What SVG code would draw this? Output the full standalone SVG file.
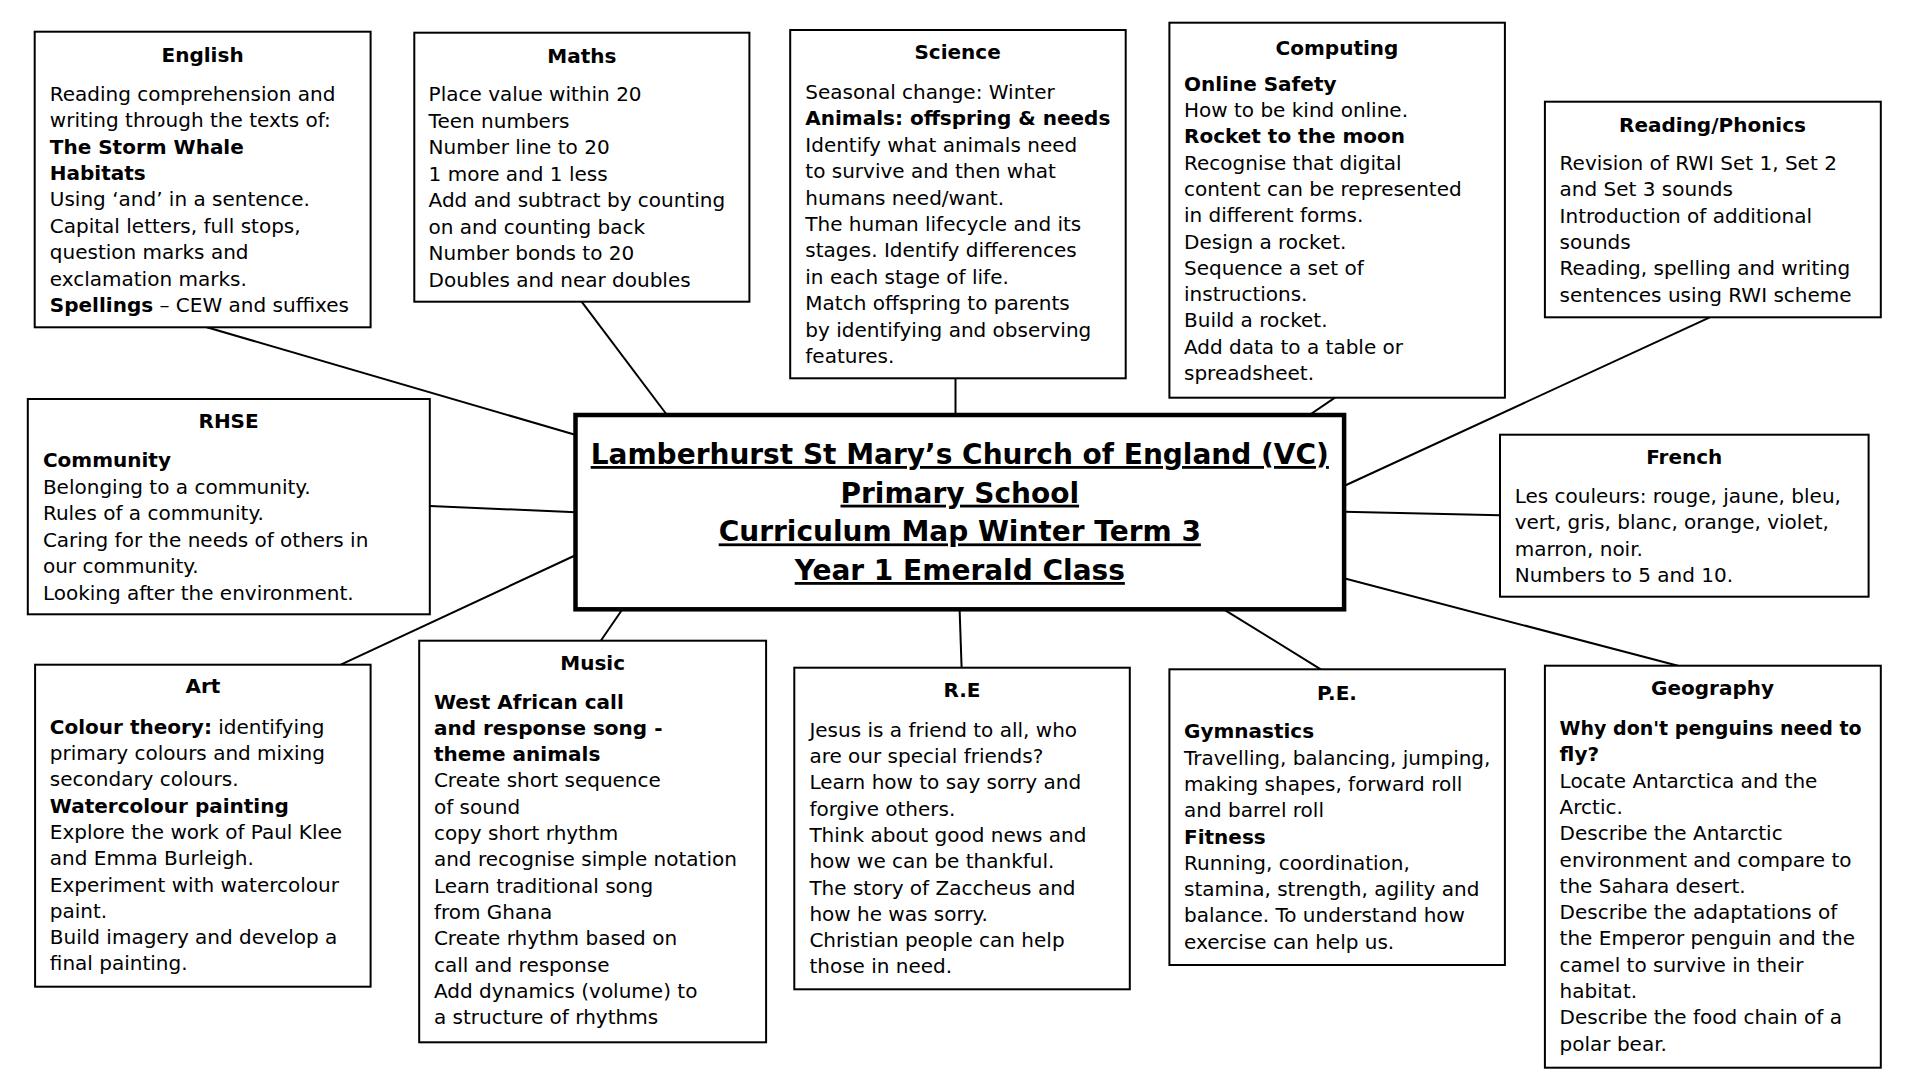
<svg xmlns="http://www.w3.org/2000/svg" width="1920" height="1079" viewBox="0 0 1920 1079">
<style>
.box{fill:#fff;stroke:#000;stroke-width:2}
.main{fill:#fff;stroke:#000;stroke-width:4.5}
.t{font-family:"DejaVu Sans",sans-serif;font-size:20px;fill:#000}
.h{font-family:"DejaVu Sans",sans-serif;font-size:20px;font-weight:bold;text-anchor:middle;fill:#000}
.b{font-weight:bold}
.mt{font-family:"DejaVu Sans",sans-serif;font-size:28px;font-weight:bold;text-anchor:middle;text-decoration:underline;fill:#000}
.c{stroke:#000;stroke-width:2;fill:none}
</style>
<rect width="1920" height="1079" fill="#fff"/>
<g id="connectors">
<line class="c" x1="206" y1="327" x2="576" y2="435"/>
<line class="c" x1="581.6" y1="301.7" x2="667" y2="415"/>
<line class="c" x1="955.5" y1="378.3" x2="955.5" y2="415"/>
<line class="c" x1="1335" y1="397.7" x2="1309.4" y2="415"/>
<line class="c" x1="1709.8" y1="317.3" x2="1344" y2="486"/>
<line class="c" x1="1344" y1="511.7" x2="1500" y2="515.3"/>
<line class="c" x1="1344" y1="578.3" x2="1678" y2="665.7"/>
<line class="c" x1="1223.7" y1="609.3" x2="1320.8" y2="669.3"/>
<line class="c" x1="959.6" y1="609.3" x2="961.6" y2="667.7"/>
<line class="c" x1="622.4" y1="609.3" x2="600.8" y2="640.7"/>
<line class="c" x1="576" y1="555" x2="340.8" y2="664.7"/>
<line class="c" x1="429.8" y1="506" x2="576" y2="512.3"/>
</g>
<g id="english">
<rect class="box" x="34.7" y="31.7" width="335.9" height="295.6"/>
<text class="h" x="202.6" y="61.7">English</text>
<text class="t" x="49.8" y="100.7"><tspan x="49.8">Reading comprehension and</tspan><tspan x="49.8" dy="26.4">writing through the texts of:</tspan><tspan x="49.8" dy="26.4" class="b">The Storm Whale</tspan><tspan x="49.8" dy="26.4" class="b">Habitats</tspan><tspan x="49.8" dy="26.4">Using ‘and’ in a sentence.</tspan><tspan x="49.8" dy="26.4">Capital letters, full stops,</tspan><tspan x="49.8" dy="26.4">question marks and</tspan><tspan x="49.8" dy="26.4">exclamation marks.</tspan><tspan x="49.8" dy="26.4" class="b">Spellings</tspan><tspan> – CEW and suffixes</tspan></text>
</g>
<g id="maths">
<rect class="box" x="414.3" y="32.7" width="335.1" height="269"/>
<text class="h" x="581.9" y="62.7">Maths</text>
<text class="t" x="428.6" y="101"><tspan x="428.6">Place value within 20</tspan><tspan x="428.6" dy="26.5">Teen numbers</tspan><tspan x="428.6" dy="26.5">Number line to 20</tspan><tspan x="428.6" dy="26.5">1 more and 1 less</tspan><tspan x="428.6" dy="26.5">Add and subtract by counting</tspan><tspan x="428.6" dy="26.5">on and counting back</tspan><tspan x="428.6" dy="26.5">Number bonds to 20</tspan><tspan x="428.6" dy="26.5">Doubles and near doubles</tspan></text>
</g>
<g id="science">
<rect class="box" x="790.2" y="30" width="335.5" height="348.3"/>
<text class="h" x="957.6" y="59.3">Science</text>
<text class="t" x="805.3" y="99"><tspan x="805.3">Seasonal change: Winter</tspan><tspan x="805.3" dy="26.4" class="b">Animals: offspring &amp; needs</tspan><tspan x="805.3" dy="26.4">Identify what animals need</tspan><tspan x="805.3" dy="26.4">to survive and then what</tspan><tspan x="805.3" dy="26.4">humans need/want.</tspan><tspan x="805.3" dy="26.4">The human lifecycle and its</tspan><tspan x="805.3" dy="26.4">stages. Identify differences</tspan><tspan x="805.3" dy="26.4">in each stage of life.</tspan><tspan x="805.3" dy="26.4">Match offspring to parents</tspan><tspan x="805.3" dy="26.4">by identifying and observing</tspan><tspan x="805.3" dy="26.4">features.</tspan></text>
</g>
<g id="computing">
<rect class="box" x="1169.4" y="22.7" width="335.5" height="375"/>
<text class="h" x="1337" y="55">Computing</text>
<text class="t" x="1184" y="90.7"><tspan x="1184" class="b">Online Safety</tspan><tspan x="1184" dy="26.3">How to be kind online.</tspan><tspan x="1184" dy="26.3" class="b">Rocket to the moon</tspan><tspan x="1184" dy="26.3">Recognise that digital</tspan><tspan x="1184" dy="26.3">content can be represented</tspan><tspan x="1184" dy="26.3">in different forms.</tspan><tspan x="1184" dy="26.3">Design a rocket.</tspan><tspan x="1184" dy="26.3">Sequence a set of</tspan><tspan x="1184" dy="26.3">instructions.</tspan><tspan x="1184" dy="26.3">Build a rocket.</tspan><tspan x="1184" dy="26.3">Add data to a table or</tspan><tspan x="1184" dy="26.3">spreadsheet.</tspan></text>
</g>
<g id="reading-phonics">
<rect class="box" x="1544.9" y="101.7" width="335.9" height="215.6"/>
<text class="h" x="1712.5" y="131.7">Reading/Phonics</text>
<text class="t" x="1559.6" y="170"><tspan x="1559.6">Revision of RWI Set 1, Set 2</tspan><tspan x="1559.6" dy="26.3">and Set 3 sounds</tspan><tspan x="1559.6" dy="26.3">Introduction of additional</tspan><tspan x="1559.6" dy="26.3">sounds</tspan><tspan x="1559.6" dy="26.3">Reading, spelling and writing</tspan><tspan x="1559.6" dy="26.3">sentences using RWI scheme</tspan></text>
</g>
<g id="rhse">
<rect class="box" x="27.8" y="399" width="402" height="215.3"/>
<text class="h" x="228.6" y="428.3">RHSE</text>
<text class="t" x="42.9" y="467.3"><tspan x="42.9" class="b">Community</tspan><tspan x="42.9" dy="26.5">Belonging to a community.</tspan><tspan x="42.9" dy="26.5">Rules of a community.</tspan><tspan x="42.9" dy="26.5">Caring for the needs of others in</tspan><tspan x="42.9" dy="26.5">our community.</tspan><tspan x="42.9" dy="26.5">Looking after the environment.</tspan></text>
</g>
<g id="centre">
<rect class="main" x="575.5" y="415" width="768.6" height="194.3"/>
<text class="mt" x="959.8" y="464">Lamberhurst St Mary’s Church of England (VC)</text>
<text class="mt" x="959.8" y="502.7">Primary School</text>
<text class="mt" x="959.8" y="541.4">Curriculum Map Winter Term 3</text>
<text class="mt" x="959.8" y="580">Year 1 Emerald Class</text>
</g>
<g id="french">
<rect class="box" x="1500" y="434.7" width="368.6" height="162"/>
<text class="h" x="1684.3" y="464">French</text>
<text class="t" x="1514.7" y="503.3"><tspan x="1514.7">Les couleurs: rouge, jaune, bleu,</tspan><tspan x="1514.7" dy="26.1">vert, gris, blanc, orange, violet,</tspan><tspan x="1514.7" dy="26.1">marron, noir.</tspan><tspan x="1514.7" dy="26.1">Numbers to 5 and 10.</tspan></text>
</g>
<g id="art">
<rect class="box" x="35.1" y="664.7" width="335.5" height="322"/>
<text class="h" x="202.9" y="693.3">Art</text>
<text class="t" x="49.8" y="733.7"><tspan x="49.8" class="b">Colour theory:</tspan><tspan> identifying</tspan><tspan x="49.8" dy="26.3">primary colours and mixing</tspan><tspan x="49.8" dy="26.3">secondary colours.</tspan><tspan x="49.8" dy="26.3" class="b">Watercolour painting</tspan><tspan x="49.8" dy="26.3">Explore the work of Paul Klee</tspan><tspan x="49.8" dy="26.3">and Emma Burleigh.</tspan><tspan x="49.8" dy="26.3">Experiment with watercolour</tspan><tspan x="49.8" dy="26.3">paint.</tspan><tspan x="49.8" dy="26.3">Build imagery and develop a</tspan><tspan x="49.8" dy="26.3">final painting.</tspan></text>
</g>
<g id="music">
<rect class="box" x="419.2" y="640.7" width="346.9" height="401.6"/>
<text class="h" x="592.7" y="670">Music</text>
<text class="t" x="433.9" y="708.5"><tspan x="433.9" class="b">West African call</tspan><tspan x="433.9" dy="26.3" class="b">and response song -</tspan><tspan x="433.9" dy="26.3" class="b">theme animals</tspan><tspan x="433.9" dy="26.3">Create short sequence</tspan><tspan x="433.9" dy="26.3">of sound</tspan><tspan x="433.9" dy="26.3">copy short rhythm</tspan><tspan x="433.9" dy="26.3">and recognise simple notation</tspan><tspan x="433.9" dy="26.3">Learn traditional song</tspan><tspan x="433.9" dy="26.3">from Ghana</tspan><tspan x="433.9" dy="26.3">Create rhythm based on</tspan><tspan x="433.9" dy="26.3">call and response</tspan><tspan x="433.9" dy="26.3">Add dynamics (volume) to</tspan><tspan x="433.9" dy="26.3">a structure of rhythms</tspan></text>
</g>
<g id="re">
<rect class="box" x="794.3" y="667.7" width="335.5" height="321.6"/>
<text class="h" x="962" y="697.3">R.E</text>
<text class="t" x="809.4" y="736.7"><tspan x="809.4">Jesus is a friend to all, who</tspan><tspan x="809.4" dy="26.3">are our special friends?</tspan><tspan x="809.4" dy="26.3">Learn how to say sorry and</tspan><tspan x="809.4" dy="26.3">forgive others.</tspan><tspan x="809.4" dy="26.3">Think about good news and</tspan><tspan x="809.4" dy="26.3">how we can be thankful.</tspan><tspan x="809.4" dy="26.3">The story of Zaccheus and</tspan><tspan x="809.4" dy="26.3">how he was sorry.</tspan><tspan x="809.4" dy="26.3">Christian people can help</tspan><tspan x="809.4" dy="26.3">those in need.</tspan></text>
</g>
<g id="pe">
<rect class="box" x="1169.4" y="669.3" width="335.5" height="295.7"/>
<text class="h" x="1337" y="700">P.E.</text>
<text class="t" x="1184" y="738.3"><tspan x="1184" class="b">Gymnastics</tspan><tspan x="1184" dy="26.3">Travelling, balancing, jumping,</tspan><tspan x="1184" dy="26.3">making shapes, forward roll</tspan><tspan x="1184" dy="26.3">and barrel roll</tspan><tspan x="1184" dy="26.3" class="b">Fitness</tspan><tspan x="1184" dy="26.3">Running, coordination,</tspan><tspan x="1184" dy="26.3">stamina, strength, agility and</tspan><tspan x="1184" dy="26.3">balance. To understand how</tspan><tspan x="1184" dy="26.3">exercise can help us.</tspan></text>
</g>
<g id="geography">
<rect class="box" x="1544.9" y="665.7" width="335.9" height="402"/>
<text class="h" x="1712.5" y="695">Geography</text>
<text class="t" x="1559.6" y="735"><tspan x="1559.6" class="b" textLength="302" lengthAdjust="spacingAndGlyphs">Why don't penguins need to</tspan><tspan x="1559.6" dy="26.3" class="b">fly?</tspan><tspan x="1559.6" dy="26.3">Locate Antarctica and the</tspan><tspan x="1559.6" dy="26.3">Arctic.</tspan><tspan x="1559.6" dy="26.3">Describe the Antarctic</tspan><tspan x="1559.6" dy="26.3">environment and compare to</tspan><tspan x="1559.6" dy="26.3">the Sahara desert.</tspan><tspan x="1559.6" dy="26.3">Describe the adaptations of</tspan><tspan x="1559.6" dy="26.3">the Emperor penguin and the</tspan><tspan x="1559.6" dy="26.3">camel to survive in their</tspan><tspan x="1559.6" dy="26.3">habitat.</tspan><tspan x="1559.6" dy="26.3">Describe the food chain of a</tspan><tspan x="1559.6" dy="26.3">polar bear.</tspan></text>
</g>
</svg>
